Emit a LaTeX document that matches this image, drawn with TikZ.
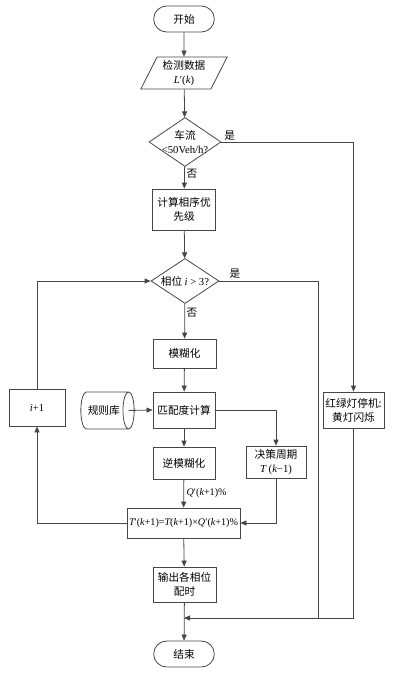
\documentclass[tikz,border=0pt]{standalone}
\usepackage{fontspec}
\setmainfont{Liberation Serif}
\newfontfamily\cjk{Noto Sans CJK SC}
\usetikzlibrary{shapes.geometric,shapes.misc,arrows.meta,positioning}
\newcommand{\vr}[1]{{\rmfamily\itshape #1}}
\newcommand{\lt}[1]{{\rmfamily #1}}
\definecolor{linecol}{RGB}{70,70,70}
\tikzset{
    base/.style={
        draw=linecol,
        line width=0.6pt,
        font=\cjk\fontsize{8}{10.5}\selectfont,
        align=center,
        inner sep=0.5pt
    },
    terminal/.style={base, rounded rectangle, minimum width=46.5pt, minimum height=19.5pt},
    iobox/.style={
        base,
        trapezium,
        trapezium left angle=63.4,
        trapezium right angle=116.6,
        trapezium stretches=true,
        minimum width=65pt,
        minimum height=24pt
    },
    process/.style={base, rectangle},
    decision/.style={base, diamond},
    % cylinder lies on its side: height runs along the axis
    store/.style={base, cylinder, aspect=1, minimum height=40pt, minimum width=27.75pt},
    tag/.style={font=\cjk\fontsize{8}{10.5}\selectfont, inner sep=1pt, align=center},
    flow/.style={draw=linecol, line width=0.6pt, -{Triangle[length=4.5pt,width=3.8pt]}},
    wire/.style={draw=linecol, line width=0.6pt}
}

\begin{document}
\begin{tikzpicture}[x=0.75pt,y=-0.75pt]
  \useasboundingbox (0,0) rectangle (417,674);

  % main column
  \node[terminal] (start) at (184,19) {开始};
  \node[iobox] (data) at (184,73) {检测数据\\\vr{L}\lt{′(}\vr{k}\lt{)}};
  \node[decision, minimum width=54pt, minimum height=36.75pt,
        label={[tag]center:{车流\\\lt{<50Veh/h?}}}] (d1) at (185,142) {};
  \node[process, minimum width=47.25pt, minimum height=30.75pt] (calc) at (184,209.5) {计算相序优\\先级};
  \node[decision, minimum width=51pt, minimum height=33.75pt,
        label={[tag]center:{相位 \vr{i}\lt{ > 3?}}}] (d2) at (185,281) {};
  \node[process, minimum width=47.25pt, minimum height=21.75pt] (fuzzy) at (184.5,353.5) {模糊化};
  \node[process, minimum width=46.5pt, minimum height=27pt] (match) at (184,410) {匹配度计算};
  \node[process, minimum width=46.5pt, minimum height=24pt] (inv) at (184,463) {逆模糊化};
  \node[process, minimum width=84.75pt, minimum height=22.5pt, font=\rmfamily\fontsize{7.6}{9}\selectfont] (upd) at (183.5,523)
    {\vr{T}′(\vr{k}+1)=\vr{T}(\vr{k}+1)×\vr{Q}′(\vr{k}+1)\%};
  \node[process, minimum width=47.25pt, minimum height=26.25pt] (out) at (184.5,584.5) {输出各相位\\配时};
  \node[terminal] (end) at (184,654) {结束};

  % side nodes
  \node[store, anchor=shape center] (rules) at (107.5,410.5) {规则库};
  \node[process, minimum width=42pt, minimum height=27.75pt] (inc) at (37,407.5) {\vr{i}\lt{+1}};
  \node[process, minimum width=45pt, minimum height=24pt] (dec) at (276,462) {决策周期\\\vr{T}\lt{ (}\vr{k}\lt{−1)}};
  \node[process, minimum width=45.75pt, minimum height=27pt] (rg) at (353.5,410) {红绿灯停机:\\黄灯闪烁};

  \coordinate (merge) at (184,618);

  % connectors
  \draw[flow] (start) -- (data);
  \draw[flow] (data) -- (d1);
  \draw[flow] (d1) -- (calc);
  \draw[flow] (d1.east) -| (rg.north);
  \draw[flow] (calc) -- (d2);
  \draw[flow] (d2) -- (fuzzy);
  \draw[wire] (d2.east) -| (merge -| 318,0);
  \draw[flow] (fuzzy) -- (match);
  \draw[flow] ([xshift=-4.5pt]rules.east) -- (match.west);
  \draw[flow] (match) -- (inv);
  \draw[flow] (match.east) -| (dec.north);
  \draw[flow] (inv) -- (upd);
  \draw[flow] (dec.south) |- (upd.east);
  \draw[flow] (upd.west) -| (inc.south);
  \draw[flow] (inc.north) |- (d2.west);
  \draw[flow] (upd) -- (out);
  \draw[flow] (rg.south) |- (merge);
  \draw[flow] (out) -- (end);

  % branch labels
  \node[tag, above right] (yes1) at ([xshift=1pt]d1.east) {是};
  \node[tag, right] (no1) at ([yshift=-5pt]d1.south) {否};
  \node[tag] (yes2) at (235,274) {是};
  \node[tag, right] (no2) at ([yshift=-7pt]d2.south) {否};
  \node[tag, right, font=\rmfamily\fontsize{7.6}{9}\selectfont] (qlab) at (185,493) {\vr{Q}′(\vr{k}+1)\%};
\end{tikzpicture}
\end{document}
